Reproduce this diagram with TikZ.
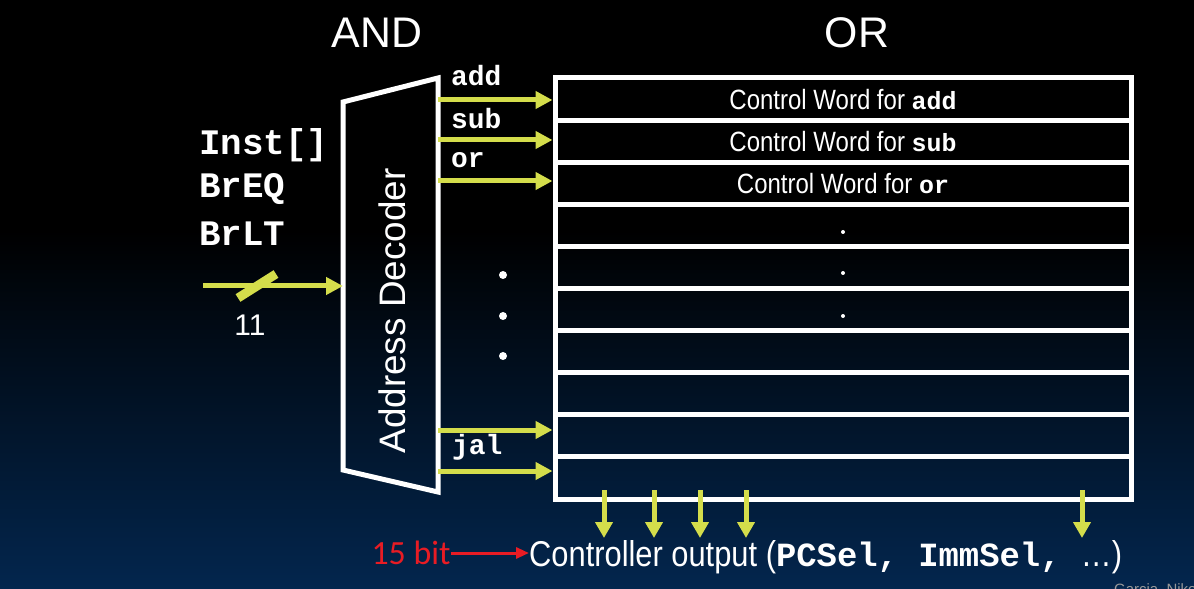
\documentclass[tikz,border=0pt]{standalone}
\usepackage{fontspec}
\setmainfont{Liberation Sans}
\newfontfamily\condsans[FakeStretch=0.86]{Liberation Sans}
\newfontfamily\monof{Liberation Mono}
\newfontfamily\calib{Carlito}
\usetikzlibrary{arrows.meta}
\definecolor{ylw}{RGB}{212,221,75}
\definecolor{navybg}{RGB}{3,38,78}
\definecolor{redarr}{RGB}{232,28,36}
\tikzset{
  wline/.style={draw=white, line width=5bp, line join=miter},
  yarrow/.style={draw=ylw, line width=5bp, -{Triangle[length=17bp,width=17bp]}},
  rowbox/.style={draw=white, line width=5bp, minimum width=576bp, minimum height=42.1bp, inner sep=0pt, text=white, font=\condsans\fontsize{28}{28}\selectfont},
  title/.style={text=white, font=\fontsize{43}{43}\selectfont, inner sep=0pt},
  sig/.style={text=white, font=\monof\bfseries\fontsize{36}{36}\selectfont, anchor=west, inner sep=0pt},
  op/.style={text=white, font=\monof\bfseries\fontsize{28}{28}\selectfont, anchor=west, inner sep=0pt},
  bigdot/.style={fill=white, circle, inner sep=0pt, minimum size=8bp},
  smalldot/.style={fill=white, circle, inner sep=0pt, minimum size=4bp},
}
\begin{document}
\begin{tikzpicture}[x=1bp,y=-1bp]
\useasboundingbox (0,0) rectangle (1194,589);
\fill[black] (0,0) rectangle (1194,589);
\shade[top color=black, bottom color=navybg] (0,230) rectangle (1194,589);

% titles
\node[title] (and) at (377,33) {AND};
\node[title] (or) at (857,33) {OR};

% input signals
\node[sig] (inst) at (199,145) {Inst[]};
\node[sig] (breq) at (199,189) {BrEQ};
\node[sig] (brlt) at (199,234) {BrLT};

% decoder
\coordinate (dtl) at (343,102);
\coordinate (dtr) at (438,78);
\coordinate (dbr) at (438,492);
\coordinate (dbl) at (343,470);
\draw[wline] (dtl) -- (dtr) -- (dbr) -- (dbl) -- cycle;
\node[text=white, rotate=90, font=\fontsize{37}{37}\selectfont, inner sep=0pt] (dec) at (392,311) {Address Decoder};

% input bus
\coordinate (in) at (203,286);
\coordinate (din) at (343,286);
\draw[yarrow] (in) -- (din);
\coordinate (s1) at (238,298);
\coordinate (s2) at (276,274);
\draw[ylw, line width=9bp] (s1) -- (s2);
\node[text=white, font=\fontsize{30}{30}\selectfont, inner sep=0pt] (w11) at (250,325) {11};

% OR rows
\node[rowbox] (r1) at (843,99.05) {Control Word for {\monof\bfseries\fontsize{25}{25}\selectfont add}};
\node[rowbox] (r2) at (843,141.15) {Control Word for {\monof\bfseries\fontsize{25}{25}\selectfont sub}};
\node[rowbox] (r3) at (843,183.25) {Control Word for {\monof\bfseries\fontsize{25}{25}\selectfont or}};
\node[rowbox] (r4) at (843,225.35) {};
\node[rowbox] (r5) at (843,267.45) {};
\node[rowbox] (r6) at (843,309.55) {};
\node[rowbox] (r7) at (843,351.65) {};
\node[rowbox] (r8) at (843,393.75) {};
\node[rowbox] (r9) at (843,435.85) {};
\node[rowbox] (r10) at (843,477.95) {};
\node[smalldot] (rd1) at (843,232) {};
\node[smalldot] (rd2) at (843,273) {};
\node[smalldot] (rd3) at (843,316) {};

% decoder outputs
\coordinate (d1) at (438,100);
\coordinate (d2) at (438,140);
\coordinate (d3) at (438,181);
\coordinate (d9) at (438,430);
\coordinate (d10) at (438,471);
\draw[yarrow] (d1) -- (d1 -| r1.west);
\draw[yarrow] (d2) -- (d2 -| r2.west);
\draw[yarrow] (d3) -- (d3 -| r3.west);
\draw[yarrow] (d9) -- (d9 -| r9.west);
\draw[yarrow] (d10) -- (d10 -| r10.west);
\node[op] (ladd) at (451,76) {add};
\node[op] (lsub) at (451,119) {sub};
\node[op] (lor) at (451,160) {or};
\node[op] (ljal) at (452,447) {jal};
\node[bigdot] (v1) at (503,275) {};
\node[bigdot] (v2) at (503,316) {};
\node[bigdot] (v3) at (503,356) {};

% outputs
\node[inner sep=0pt, anchor=west, text=white] (ctrl) at (529,557)
  {{\condsans\fontsize{36}{36}\selectfont Controller output (}{\monof\bfseries\fontsize{34}{34}\selectfont PCSel, ImmSel, }{\condsans\fontsize{36}{36}\selectfont …)}};
\foreach \x/\n in {604/o1,654/o2,700/o3,746/o4,1082/o5}{
  \coordinate (\n) at (\x,490);
  \coordinate (\n e) at (\x,538);
  \draw[draw=ylw, line width=5bp, -{Triangle[length=16bp,width=17bp]}] (\n) -- (\n e);
}
\node[text=redarr, font=\calib\fontsize{34}{34}\selectfont, inner sep=0pt] (bits) at (411,553) {15 bit};
\draw[draw=redarr, line width=3bp, -{Triangle[length=13bp,width=11bp]}] (bits.east) -- (ctrl.west |- bits.east);

\node[text=gray!80, font=\fontsize{15}{15}\selectfont, anchor=north west, inner sep=0pt] (credit) at (1114,583) {Garcia, Nikolic};
\end{tikzpicture}
\end{document}
